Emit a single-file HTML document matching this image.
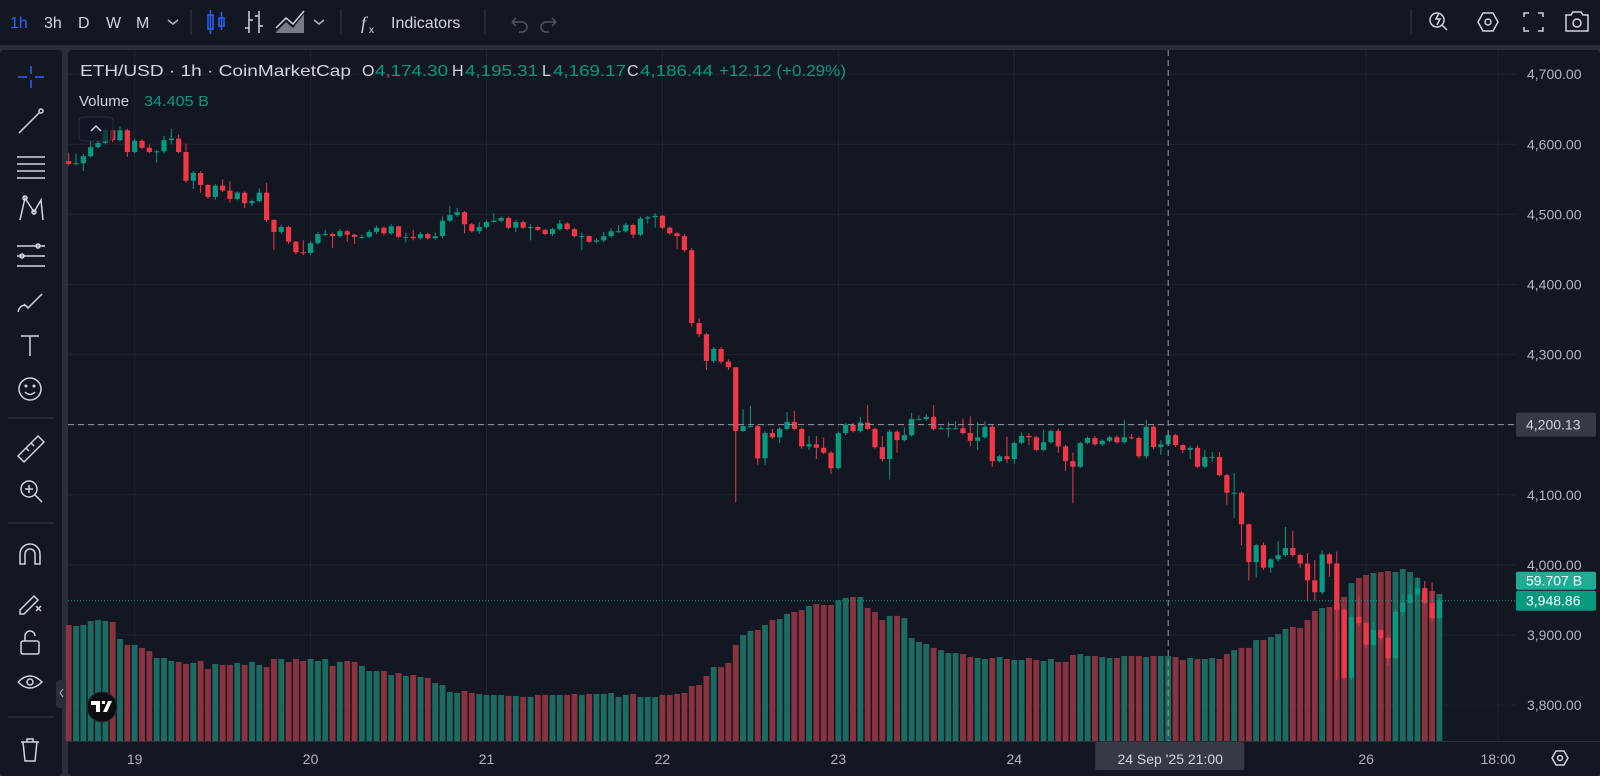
<!DOCTYPE html>
<html><head><meta charset="utf-8">
<style>
html,body{margin:0;padding:0;background:#2a2e39;width:1600px;height:776px;overflow:hidden;font-family:"Liberation Sans",sans-serif}
svg{display:block}
</style></head>
<body>
<svg id="root" width="1600" height="776" viewBox="0 0 1600 776" xmlns="http://www.w3.org/2000/svg">
  <rect x="0" y="0" width="1600" height="45" fill="#131722"/>
  <rect x="0" y="50" width="62" height="726" rx="4" fill="#131722"/>
  <rect x="68" y="50" width="1532" height="726" rx="4" fill="#131722"/>
  <line x1="68" y1="741.5" x2="1600" y2="741.5" stroke="#2a2e39" stroke-width="1"/>
  <g id="grid"></g>
  <g id="volumes"></g>
  <g id="candles"></g>
  <g id="overlay"></g>
  <g id="axes"></g>

  <g font-size="16" fill="#d1d4dc">
    <text x="10" y="28" fill="#2962ff">1h</text>
    <text x="44" y="28">3h</text>
    <text x="78" y="28">D</text>
    <text x="106" y="28">W</text>
    <text x="136" y="28">M</text>
  </g>
  <path d="M168 20 l5 4 l5 -4" stroke="#b2b5be" stroke-width="1.5" fill="none"/>
  <line x1="191" y1="9" x2="191" y2="35" stroke="#2a2e39" stroke-width="1.5"/>
  <g stroke="#2962ff" stroke-width="1.5" fill="none">
    <rect x="208" y="15" width="5" height="14"/><line x1="210.5" y1="10" x2="210.5" y2="34"/>
    <rect x="219" y="18" width="5" height="8"/><line x1="221.5" y1="12" x2="221.5" y2="30"/>
  </g>
  <g stroke="#d1d4dc" stroke-width="1.5" fill="none">
    <path d="M249 11 v22 M245 28 h4 M249 20 h4 M259 11 v22 M255 16 h4 M259 26 h4"/>
  </g>
  <g>
    <path d="M276 32 L286 22 L293 28 L304 14 L304 33 L276 33 Z" fill="#787b86"/>
    <path d="M276 28 L286 18 L293 24 L304 11" stroke="#d1d4dc" stroke-width="1.5" fill="none"/>
  </g>
  <path d="M314 20 l5 4 l5 -4" stroke="#b2b5be" stroke-width="1.5" fill="none"/>
  <line x1="341" y1="9" x2="341" y2="35" stroke="#2a2e39" stroke-width="1.5"/>
  <g>
    <text x="361" y="29" font-size="18" fill="#d1d4dc" font-family="Liberation Serif, serif" font-style="italic">f</text>
    <text x="369" y="33" font-size="10" fill="#d1d4dc">x</text>
    <text x="391" y="28" font-size="16" fill="#d1d4dc">Indicators</text>
  </g>
  <line x1="485" y1="9" x2="485" y2="35" stroke="#2a2e39" stroke-width="1.5"/>
  <path d="M512 22 h10 a5 5 0 0 1 0 10 h-3 M512 22 l4 -4 M512 22 l4 4" stroke="#50535e" stroke-width="1.5" fill="none"/>
  <path d="M556 22 h-10 a5 5 0 0 0 0 10 h3 M556 22 l-4 -4 M556 22 l-4 4" stroke="#50535e" stroke-width="1.5" fill="none"/>
  <line x1="1411" y1="9" x2="1411" y2="35" stroke="#2a2e39" stroke-width="1.5"/>
  <g stroke="#d1d4dc" stroke-width="1.5" fill="none">
    <g><circle cx="1437" cy="20" r="7"/><path d="M1442 25 l5 5 M1439 13 l-3 6 h4 l-3 6"/></g>
    <g><path d="M1478 22 l5 -9 h10 l5 9 l-5 9 h-10 z"/><circle cx="1488" cy="22" r="3"/></g>
    <g><path d="M1524 17 v-4 h5 M1538 13 h5 v4 M1543 27 v4 h-5 M1529 31 h-5 v-4"/></g>
    <g><path d="M1566 15 h5 l2 -3 h8 l2 3 h5 v16 h-22 z"/><circle cx="1577" cy="23" r="4"/></g>
  </g>

  <g stroke="#d1d4dc" stroke-width="1.5" fill="none">
    <g stroke="#2962ff"><path d="M31 66 v8 M31 80 v8 M18 77 h9 M35 77 h9"/></g>
    <g><path d="M19 133 L40 112"/><circle cx="41" cy="111" r="2"/></g>
    <g><path d="M17 157 h28 M17 164 h28 M17 171 h28 M17 178 h28"/></g>
    <g><path d="M20 220 L25 198 L34 212 L41 200 L43 220"/><circle cx="25" cy="198" r="2"/><circle cx="34" cy="212" r="2"/></g>
    <g><path d="M17 246 h28 M17 256 h28 M17 266 h28"/><circle cx="22" cy="256" r="2"/><circle cx="38" cy="246" r="2"/></g>
    <g><path d="M18 312 c2 -8 8 -8 10 -4 L42 294 M28 308 l-4 -4"/></g>
    <g><path d="M21 336 h18 M30 336 v20"/></g>
    <g><circle cx="30" cy="389" r="11"/><path d="M25 392 q5 5 10 0"/><circle cx="26" cy="386" r="0.8"/><circle cx="34" cy="386" r="0.8"/></g>
    <line x1="8" y1="418" x2="54" y2="418" stroke="#2a2e39"/>
    <g><path d="M18 456 L38 436 L44 442 L24 462 Z M26 448 l3 3 M31 443 l3 3"/></g>
    <g><circle cx="29" cy="489" r="8"/><path d="M35 495 l7 7 M25 489 h8 M29 485 v8"/></g>
    <line x1="8" y1="523" x2="54" y2="523" stroke="#2a2e39"/>
    <g><path d="M20 564 v-10 a10 10 0 0 1 20 0 v10 h-5 v-10 a5 5 0 0 0 -10 0 v10 z"/></g>
    <g><path d="M20 610 l14 -14 l4 4 l-14 14 h-4 z M36 606 l5 5 M41 606 l-5 5"/></g>
    <g><rect x="21" y="641" width="18" height="13" rx="2"/><path d="M25 641 v-5 a5 5 0 0 1 10 0"/></g>
    <g><path d="M18 682 q12 -12 24 0 q-12 12 -24 0"/><circle cx="30" cy="682" r="3"/></g>
    <line x1="8" y1="717" x2="54" y2="717" stroke="#2a2e39"/>
    <g><path d="M21 742 h18 M27 742 v-3 h6 v3 M23 742 l2 19 h10 l2 -19"/></g>
  </g>
  <g><rect x="56" y="680" width="10" height="28" rx="3" fill="#2a2e39"/><path d="M63 689 l-3 4 l3 4" stroke="#b2b5be" fill="none"/></g>

  <g font-size="16">
    <text x="80" y="76" fill="#d1d4dc" textLength="271" lengthAdjust="spacingAndGlyphs">ETH/USD · 1h · CoinMarketCap</text>
    <text x="362" y="76" fill="#d1d4dc">O</text>
    <text x="375" y="76" fill="#089981" textLength="73" lengthAdjust="spacingAndGlyphs">4,174.30</text>
    <text x="452" y="76" fill="#d1d4dc">H</text>
    <text x="465" y="76" fill="#089981" textLength="73" lengthAdjust="spacingAndGlyphs">4,195.31</text>
    <text x="542" y="76" fill="#d1d4dc">L</text>
    <text x="553" y="76" fill="#089981" textLength="73" lengthAdjust="spacingAndGlyphs">4,169.17</text>
    <text x="627" y="76" fill="#d1d4dc">C</text>
    <text x="640" y="76" fill="#089981" textLength="73" lengthAdjust="spacingAndGlyphs">4,186.44</text>
    <text x="719" y="76" fill="#089981" textLength="127" lengthAdjust="spacingAndGlyphs">+12.12 (+0.29%)</text>
    <text x="79" y="106" fill="#d1d4dc" font-size="15">Volume</text>
    <text x="144" y="106" fill="#089981" font-size="15" textLength="65" lengthAdjust="spacingAndGlyphs">34.405 B</text>
  </g>
  <g>
    <rect x="79" y="117" width="34" height="24" rx="4" fill="#131722" fill-opacity="0.7" stroke="#2a2e39"/>
    <path d="M91 131 l5 -5 l5 5" stroke="#d1d4dc" stroke-width="1.5" fill="none"/>
  </g>
  <g>
    <circle cx="102" cy="707" r="15" fill="#0b0d12" stroke="#2a2e39"/>
    <path d="M91 701 h9 v11 h-4 v-7 h-5 z M102 701 h3 v3 h-3 z M108 701 h4 l-5 11 h-4 z" fill="#fff"/>
  </g>
</svg>
<script>
const firstOpen = 4576;
const closes = [4572,4573,4583,4596,4602,4620,4606,4620,4589,4605,4595,4589,4590,4606,4608,4589,4548,4559,4542,4525,
4541,4534,4522,4531,4516,4519,4531,4492,4475,4482,4461,4446,4445,4459,4472,4472,4469,4476,4471,4468,
4468,4475,4481,4473,4483,4468,4468,4466,4472,4466,4469,4491,4499,4503,4486,4476,4482,4489,4491,4495,
4481,4489,4481,4482,4478,4472,4479,4487,4479,4469,4469,4461,4463,4469,4476,4476,4485,4471,4494,4496,
4498,4481,4473,4469,4449,4345,4329,4291,4308,4290,4282,4191,4198,4198,4152,4188,4182,4194,4204,4194,
4169,4172,4167,4160,4138,4188,4200,4191,4203,4194,4168,4151,4190,4178,4185,4208,4208,4211,4194,4195,
4195,4195,4188,4177,4182,4197,4148,4155,4151,4174,4184,4182,4164,4175,4191,4169,4148,4140,4174,4181,
4172,4177,4182,4175,4182,4181,4155,4197,4168,4172,4185,4171,4164,4167,4140,4154,4154,4128,4103,4103,
4058,4004,4028,3996,4008,4014,4024,4014,4002,3978,3961,4015,4002,3936,3839,3926,3917,3886,3907,3896,
3867,3933,3946,3958,3967,3946,3924,3949];
const highs = [4588,4587,4586,4605,4606,4624,4622,4625,4622,4608,4607,4600,4592,4612,4622,4614,4601,4562,4562,4543,
4543,4550,4547,4533,4533,4521,4537,4545,4493,4485,4484,4462,4463,4462,4475,4478,4474,4479,4478,4472,
4471,4478,4484,4483,4486,4484,4474,4478,4475,4474,4474,4497,4512,4509,4505,4488,4489,4491,4502,4497,
4497,4492,4491,4486,4483,4479,4481,4492,4489,4481,4474,4470,4466,4475,4480,4485,4488,4487,4497,4498,
4502,4499,4483,4475,4472,4452,4352,4331,4311,4311,4293,4280,4222,4227,4200,4191,4194,4196,4218,4220,
4196,4184,4184,4182,4162,4190,4202,4202,4211,4228,4196,4184,4193,4192,4196,4217,4213,4215,4228,4198,
4204,4205,4209,4212,4204,4205,4200,4157,4183,4176,4189,4188,4184,4193,4193,4194,4171,4160,4176,4183,
4184,4179,4184,4185,4207,4187,4183,4207,4200,4178,4188,4187,4172,4170,4171,4164,4161,4161,4130,4131,
4105,4059,4030,4032,4010,4034,4054,4049,4016,4017,4007,4021,4017,4019,3938,3928,3955,3919,3918,3908,
3899,3936,3957,3972,3982,3977,3975,3953];
const lows = [4570,4570,4562,4581,4594,4600,4603,4604,4582,4587,4593,4587,4574,4587,4600,4587,4545,4536,4531,4522,
4521,4532,4517,4520,4509,4512,4517,4489,4449,4472,4458,4443,4442,4442,4457,4469,4452,4467,4461,4458,
4465,4466,4472,4470,4471,4466,4460,4463,4464,4464,4464,4466,4489,4497,4473,4474,4472,4480,4488,4489,
4479,4475,4479,4463,4476,4470,4469,4477,4477,4467,4449,4459,4459,4460,4467,4474,4474,4466,4469,4487,
4481,4479,4471,4451,4446,4340,4325,4278,4288,4287,4278,4089,4190,4196,4143,4143,4180,4174,4192,4192,
4166,4164,4151,4158,4130,4136,4185,4189,4189,4192,4166,4147,4122,4160,4176,4183,4206,4206,4192,4193,
4182,4193,4186,4169,4164,4180,4140,4146,4145,4144,4172,4171,4162,4162,4173,4160,4134,4088,4138,4172,
4170,4170,4175,4173,4173,4179,4152,4151,4165,4157,4170,4168,4160,4151,4138,4138,4147,4126,4086,4067,
4028,3978,3982,3993,3989,4005,4012,4011,3996,3949,3949,3958,3983,3836,3836,3836,3912,3881,3884,3892,
3857,3864,3926,3944,3955,3943,3920,3922];
const volumes = [47.1,46.7,47.1,48.7,49.1,48.7,48.3,41.4,39.0,39.0,37.8,36.5,33.7,33.7,32.5,32.1,31.3,31.7,32.5,29.2,
31.3,30.9,30.9,31.7,30.9,32.1,30.9,30.0,33.3,33.3,32.1,33.3,32.5,33.3,32.5,33.3,30.5,32.1,32.5,32.1,
30.5,28.4,28.4,28.4,26.8,27.6,26.4,26.8,26.0,25.6,23.5,22.7,19.9,19.5,20.3,19.5,19.1,18.7,18.7,18.7,
18.3,18.3,17.9,17.9,18.7,18.7,18.7,18.7,18.7,19.1,18.7,19.1,19.1,19.1,19.5,17.9,18.7,19.1,17.9,17.9,
17.9,18.7,18.7,19.1,19.5,22.3,22.7,26.4,30.0,30.0,31.7,39.0,43.0,44.7,45.1,47.1,49.1,49.5,51.6,52.4,
53.2,54.8,55.6,55.2,55.2,57.2,58.1,58.5,58.5,54.0,52.4,49.1,50.8,50.8,49.9,41.8,40.2,39.4,37.8,36.9,
35.7,35.7,35.3,34.1,33.7,33.3,33.7,34.1,33.3,32.9,32.9,33.7,32.9,32.5,33.3,32.1,32.1,34.9,35.3,34.5,
34.5,34.1,33.7,33.7,34.5,34.5,34.5,34.1,34.5,34.5,34.5,34.1,32.9,33.7,33.3,33.3,33.7,33.3,35.3,36.9,
37.8,37.8,41.0,41.0,42.2,43.4,45.5,46.3,45.9,49.1,52.8,54.0,54.4,56.8,58.5,64.1,66.2,67.4,68.2,68.6,
69.0,68.6,69.8,68.6,66.2,60.9,60.9,59.7];
const priceTicks = [4700,4600,4500,4400,4300,4200,4100,4000,3900,3800];
const timeTickIndex = [9,33,57,81,105,129,177,195];
const timeTickLabels = ["19","20","21","22","23","24","26","18:00"];
const crossIndex = 150;
const crossPrice = 4200.13;
const lastPrice = 3948.86;
const lastVolume = "59.707 B";

const X0 = 68.7, DX = 7.33;
function xOf(i){ return X0 + DX*i; }
function yOf(p){ return 424.7 - (p-4200)*0.701; }
function yVol(v){ return 741 - v*2.463; }
const NS = "http://www.w3.org/2000/svg";
function mk(tag, attrs, parent){ const e=document.createElementNS(NS,tag); for(const k in attrs) e.setAttribute(k,attrs[k]); parent.appendChild(e); return e; }
const gGrid=document.getElementById('grid'), gVol=document.getElementById('volumes'), gC=document.getElementById('candles'), gO=document.getElementById('overlay'), gA=document.getElementById('axes');
const UP="#089981", DN="#f23645";

priceTicks.forEach(p=>{
  const l=mk('line',{x1:68,x2:1516,y1:yOf(p),y2:yOf(p),stroke:"#1f2330","stroke-width":1},gGrid);
  
  
});
timeTickIndex.forEach(i=>{
  const l=mk('line',{x1:xOf(i),x2:xOf(i),y1:50,y2:741,stroke:"#1f2330","stroke-width":1},gGrid);
  
  
});

closes.forEach((c,i)=>{
  const o = i===0 ? firstOpen : closes[i-1];
  const up = c>=o;
  const x = xOf(i);
  const vb = mk('rect',{x:x-2.9,y:yVol(volumes[i]),width:5.8,height:741-yVol(volumes[i]),fill:up?"#1c6b61":"#8a3340"},gVol);
  
  
  const col = up?UP:DN;
  const w = mk('line',{x1:x,x2:x,y1:yOf(highs[i]),y2:yOf(lows[i]),stroke:col,"stroke-width":1},gC);
  
  
  const top=yOf(Math.max(o,c)), bot=yOf(Math.min(o,c));
  const b = mk('rect',{x:x-2.6,y:top,width:5.2,height:Math.max(1,bot-top),fill:col},gC);
  
  
});

const cx = xOf(crossIndex), cy = yOf(crossPrice);
const vl = mk('line',{x1:cx,x2:cx,y1:50,y2:741,stroke:"#9598a1","stroke-dasharray":"6 4","stroke-width":1},gO);


const hl = mk('line',{x1:68,x2:1516,y1:cy,y2:cy,stroke:"#9598a1","stroke-dasharray":"6 4","stroke-width":1},gO);


const lp = mk('line',{x1:68,x2:1516,y1:yOf(lastPrice),y2:yOf(lastPrice),stroke:UP,"stroke-dasharray":"1 2","stroke-width":1},gO);



priceTicks.forEach(p=>{
  const t=mk('text',{x:1527,y:yOf(p)+5,fill:"#b2b5be","font-size":14},gA);
  t.textContent=p.toLocaleString('en-US',{minimumFractionDigits:2});
  
  
});
const cb=mk('rect',{x:1516,y:cy-12,width:80,height:24,rx:2,fill:"#363a45"},gA);


const ct=mk('text',{x:1526,y:cy+5,fill:"#d1d4dc","font-size":14},gA);
ct.textContent=crossPrice.toLocaleString('en-US',{minimumFractionDigits:2});


const vbx=mk('rect',{x:1516,y:yOf(lastPrice)-29,width:80,height:18,rx:2,fill:"#22ab94"},gA);


const vtx=mk('text',{x:1526,y:yOf(lastPrice)-15,fill:"#ffffff","font-size":14},gA);
vtx.textContent=lastVolume;


const lbx=mk('rect',{x:1516,y:yOf(lastPrice)-10,width:80,height:20,rx:2,fill:UP},gA);


const ltx=mk('text',{x:1526,y:yOf(lastPrice)+5,fill:"#ffffff","font-size":14},gA);
ltx.textContent=lastPrice.toLocaleString('en-US',{minimumFractionDigits:2});



timeTickIndex.forEach((i,k)=>{
  const t=mk('text',{x:xOf(i),y:764,fill:"#b2b5be","font-size":14,"text-anchor":"middle"},gA);
  t.textContent=timeTickLabels[k];
  
  
});
const tb=mk('rect',{x:cx-73,y:742,width:149,height:28,rx:2,fill:"#363a45"},gA);


const tt=mk('text',{x:cx+2,y:764,fill:"#d1d4dc","font-size":14,"text-anchor":"middle"},gA);
tt.textContent="24 Sep '25   21:00";


const gear=mk('g',{},gA);


mk('path',{d:"M1552 758 l4 -7 h8 l4 7 l-4 7 h-8 z",stroke:"#d1d4dc","stroke-width":1.5,fill:"none"},gear);
mk('circle',{cx:1560,cy:758,r:2.5,stroke:"#d1d4dc","stroke-width":1.5,fill:"none"},gear);
</script>
</body></html>
